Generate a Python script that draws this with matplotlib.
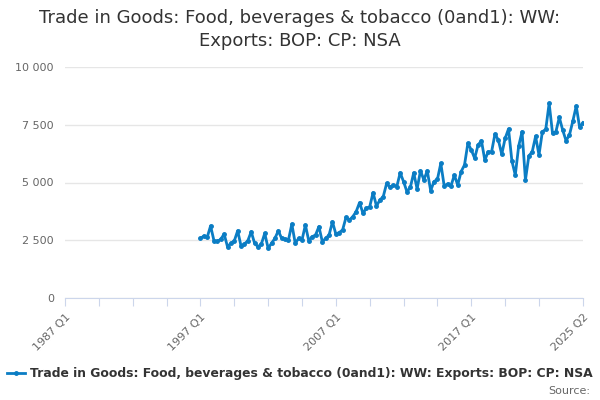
"""Quarterly exports of food, beverages & tobacco, line chart"""
import matplotlib
matplotlib.use('Agg')
import matplotlib.pyplot as plt
import matplotlib.ticker as mticker

# Series: 1997 Q1 .. 2025 Q2, GBP million
first_year = 1997
values = [
    2580, 2680, 2630, 3120,
    2480, 2450, 2540, 2770,
    2220, 2370, 2470, 2910,
    2250, 2340, 2480, 2870,
    2370, 2220, 2340, 2800,
    2150, 2370, 2580, 2910,
    2580, 2540, 2510, 3200,
    2370, 2580, 2510, 3160,
    2480, 2650, 2730, 3090,
    2440, 2580, 2730, 3300,
    2770, 2830, 2950, 3490,
    3380, 3520, 3740, 4130,
    3670, 3880, 3950, 4560,
    3980, 4240, 4390, 4960,
    4790, 4890, 4820, 5420,
    5040, 4600, 4790, 5420,
    4720, 5510, 5110, 5510,
    4650, 5040, 5140, 5830,
    4850, 4940, 4850, 5320,
    4890, 5470, 5760, 6700,
    6410, 6050, 6620, 6810,
    5970, 6330, 6330, 7100,
    6840, 6220, 6910, 7320,
    5930, 5320, 6580, 7200,
    5110, 6150, 6330, 7000,
    6190, 7200, 7300, 8430,
    7130, 7200, 7820, 7270,
    6810, 7060, 7660, 8310,
    7390, 7590,
]
tick_labels = ['1987 Q1', '1997 Q1', '2007 Q1', '2017 Q1', '2025 Q2']
series_name = 'Trade in Goods: Food, beverages & tobacco (0and1): WW: Exports: BOP: CP: NSA'
title = 'Trade in Goods: Food, beverages & tobacco (0and1): WW:\nExports: BOP: CP: NSA'

line_color = '#0b7dc4'
axis_color = '#ccd6eb'
text_gray = '#666666'


def quarter_index(label):
    year, q = label.split(' Q')
    return (int(year) - 1987) * 4 + int(q) - 1


x = [quarter_index(f'{first_year} Q1') + i for i in range(len(values))]
x_end = quarter_index(tick_labels[-1])

fig = plt.figure(figsize=(6, 4), dpi=100)
ax = fig.add_axes([65 / 600, 1 - 298 / 400, (583 - 65) / 600, (298 - 67) / 400])

ax.plot(x, values, color=line_color, linewidth=2, marker='o', markersize=2.5,
        label=series_name, zorder=3)

ax.set_xlim(0, x_end)
ax.set_ylim(0, 10000)

# y axis: grid only, no axis line
ax.set_yticks([0, 2500, 5000, 7500, 10000])
ax.yaxis.set_major_formatter(mticker.FuncFormatter(lambda v, p: f'{int(v):,}'.replace(',', ' ')))
ax.grid(axis='y', color='#e6e6e6', linewidth=1)
ax.tick_params(axis='y', length=0, labelsize=8, labelcolor=text_gray, pad=8)

# x axis: ticks every 10 quarters, labels every 40 plus the last quarter
ticks = [t for t in range(0, x_end, 10) if x_end - t > 5] + [x_end]
labels = [lab if lab in tick_labels else '' for lab in
          [f'{1987 + t // 4} Q{t % 4 + 1}' for t in ticks]]
ax.set_xticks(ticks)
ax.set_xticklabels(labels, rotation=45, ha='right', rotation_mode='anchor')
ax.tick_params(axis='x', length=6, color=axis_color, labelsize=8, labelcolor=text_gray, pad=4)

for side in ['top', 'right', 'left']:
    ax.spines[side].set_visible(False)
ax.spines['bottom'].set_color(axis_color)
ax.set_axisbelow(True)

fig.suptitle(title, fontsize=13, color='#333333', y=0.978, linespacing=1.4)

fig.legend(loc='lower center', bbox_to_anchor=(0.5, 0.022), frameon=False,
           prop={'weight': 'bold', 'size': 8.9}, handlelength=1.4, handletextpad=0.4,
           labelcolor='#333333')
fig.text(0.983, 0.01, 'Source:', ha='right', va='bottom', fontsize=8, color=text_gray)

plt.savefig('out.png', dpi=100)
